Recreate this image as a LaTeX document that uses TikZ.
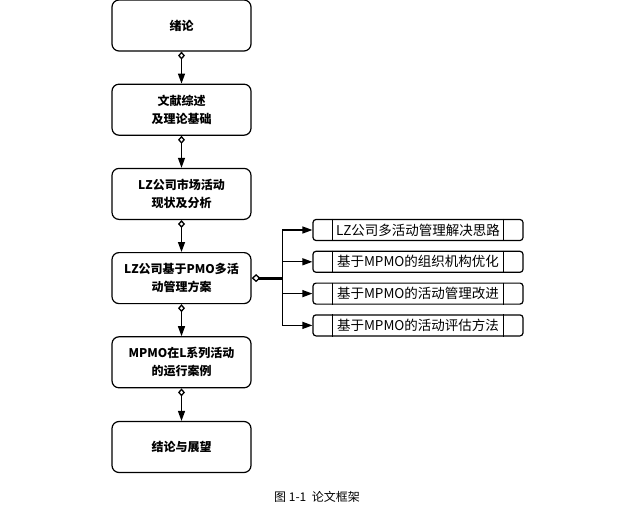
\documentclass[tikz,border=0pt]{standalone}
\usepackage{fontspec}
\newfontfamily\cjkfont{Noto Sans CJK SC}
\usetikzlibrary{arrows.meta,positioning}

\begin{document}
\begin{tikzpicture}[x=1pt, y=-1pt, every node/.style={font=\cjkfont}]
        \tikzset{
            stage/.style={draw, line width=1.2pt, rounded corners=7pt, minimum width=139pt, minimum height=51pt, align=center, inner sep=0pt, font=\cjkfont\bfseries\fontsize{12}{18}\selectfont},
            part/.style={draw, line width=1.2pt, rounded corners=3pt, minimum width=210pt, minimum height=21pt, inner sep=0pt, font=\cjkfont\fontsize{13.5}{15}\selectfont},
            link/.style={line width=1.3pt, {Diamond[open,length=8pt,width=7pt]}-{Triangle[length=10pt,width=7pt]}},
            branch/.style={line width=1.3pt, -{Triangle[length=10pt,width=7pt]}},
        }
        \useasboundingbox (0,0) rectangle (634,524);

        % main chain
        \node[stage] (b1) at (181.5,25.5) {绪论};
        \node[stage, below=32pt of b1] (b2) {文献综述\\及理论基础};
        \node[stage, below=32pt of b2] (b3) {LZ公司市场活动\\现状及分析};
        \node[stage, below=32pt of b3] (b4) {LZ公司基于PMO多活\\动管理方案};
        \node[stage, below=32pt of b4] (b5) {MPMO在L系列活动\\的运行案例};
        \node[stage, below=32.5pt of b5] (b6) {结论与展望};
        \foreach \a/\b in {b1/b2, b2/b3, b3/b4, b4/b5, b5/b6}
            \draw[link] (\a.south) -- (\b.north);

        % side parts
        \node[part] (s1) at (418,230) {LZ公司多活动管理解决思路};
        \node[part, below=9.6pt of s1] (s2) {基于MPMO的组织机构优化};
        \node[part, below=9.6pt of s2] (s3) {基于MPMO的活动管理改进};
        \node[part, below=9.6pt of s3] (s4) {基于MPMO的活动评估方法};
        \foreach \s in {s1, s2, s3, s4} {
            \draw[line width=1.2pt] ([xshift=20pt]\s.north west) -- ([xshift=20pt]\s.south west);
            \draw[line width=1.2pt] ([xshift=-20pt]\s.north east) -- ([xshift=-20pt]\s.south east);
        }

        \coordinate (fork) at ([xshift=31pt]b4.east);
        \draw[line width=3pt, {Diamond[open,length=9pt,width=8pt,line width=1.3pt]}-] (b4.east) -- (fork);
        \foreach \s in {s1, s2, s3, s4}
            \draw[branch] (fork) |- (\s.west);

        \node[font=\cjkfont\fontsize{12}{14}\selectfont] (cap) at (317,497) {图 1-1\ \ 论文框架};
    \end{tikzpicture}
\end{document}
